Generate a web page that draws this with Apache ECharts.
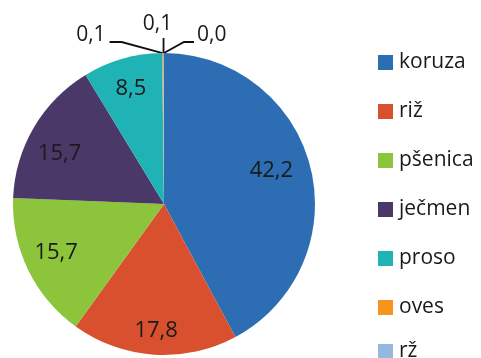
<!DOCTYPE html>
<html>
<head>
<meta charset="utf-8">
<script src="https://cdn.jsdelivr.net/npm/echarts@6/dist/echarts.min.js"></script>
<style>
  html, body { margin: 0; padding: 0; background: #fff; }
  #chart { width: 481px; height: 358px; }
</style>
</head>
<body>
<div id="chart"></div>
<script>
// Share of world cereal production (%)
const crops = ['koruza', 'riž', 'pšenica', 'ječmen', 'proso', 'oves', 'rž', 'ostalo'];
const shares = [42.2, 17.8, 15.7, 15.7, 8.5, 0.1, 0.1, 0.0];
const legendNames = ['koruza', 'riž', 'pšenica', 'ječmen', 'proso', 'oves', 'rž'];
const colors = ['#2d6db3', '#d9502f', '#8cc43c', '#4a3868', '#1fb3b6', '#f7941d', '#93b9de'];

const FONT = '"Open Sans", Lato, sans-serif';
const fmt = v => v.toFixed(1).replace('.', ',');
const small = v => v < 1;

const pieData = crops.map((name, i) => ({
  name,
  value: shares[i],
  itemStyle: { color: colors[i] || '#e8dcc0' },
  label: { show: small(shares[i]) },
  labelLine: { show: small(shares[i]) }
}));

// leader-line offsets for the tiny slices, relative to the rim point
const callouts = {
  5: { line: [[-41, -11], [-53, -11]], x: -57, y: -18, align: 'right' },
  6: { line: [[0, -15]], x: -6, y: -29, align: 'center' },
  7: { line: [[20, -11], [30, -11]], x: 33, y: -18, align: 'left' }
};

// small nudges of the in-slice value labels
const nudges = { 0: [-9, -4], 1: [0, 7], 2: [0, -4], 3: [-1, 11] };

// the legend column runs to the bottom edge, so its last entry gets its own box
const legendBase = {
  type: 'plain',
  orient: 'vertical',
  left: 378,
  padding: 0,
  itemWidth: 15,
  itemHeight: 15,
  itemGap: 28,
  icon: 'rect',
  textStyle: { fontFamily: FONT, fontSize: 21, color: '#1a1a1a', padding: [0, 0, 0, 1] }
};

const chart = echarts.init(document.getElementById('chart'), null, { renderer: 'canvas' });
chart.setOption({
  animation: false,
  color: colors,
  legend: [
    Object.assign({}, legendBase, { data: legendNames.slice(0, 6), top: 52 }),
    Object.assign({}, legendBase, { data: legendNames.slice(6), top: 341 })
  ],
  series: [
    {
      name: 'proizvodnja',
      type: 'pie',
      center: [164, 204],
      radius: 151,
      startAngle: 90,
      clockwise: true,
      avoidLabelOverlap: false,
      itemStyle: { borderWidth: 0 },
      label: {
        position: 'outside',
        formatter: p => fmt(p.value),
        fontFamily: FONT,
        fontSize: 21,
        color: '#1a1a1a'
      },
      labelLine: { lineStyle: { color: '#111', width: 1.8 } },
      labelLayout: params => {
        const c = callouts[params.dataIndex];
        if (!c || !params.labelLinePoints) return {};
        const a = params.labelLinePoints[0];
        const pts = [[a[0], a[1]]].concat(c.line.map(d => [a[0] + d[0], a[1] + d[1]]));
        return {
          x: a[0] + c.x,
          y: a[1] + c.y,
          align: c.align,
          verticalAlign: 'middle',
          labelLinePoints: pts
        };
      },
      data: pieData
    },
    {
      // transparent ring that places the value labels deeper in the slices
      name: 'oznake',
      type: 'pie',
      center: [164, 204],
      radius: [83, 151],
      startAngle: 90,
      clockwise: true,
      silent: true,
      itemStyle: { color: 'rgba(0,0,0,0)' },
      label: {
        position: 'inside',
        formatter: p => small(p.value) ? '' : fmt(p.value),
        fontFamily: FONT,
        fontSize: 22,
        color: '#1a1a1a'
      },
      labelLine: { show: false },
      labelLayout: params => {
        const n = nudges[params.dataIndex];
        return n ? { dx: n[0], dy: n[1] } : {};
      },
      data: crops.map((name, i) => ({ name, value: shares[i] }))
    }
  ]
});
</script>
</body>
</html>
